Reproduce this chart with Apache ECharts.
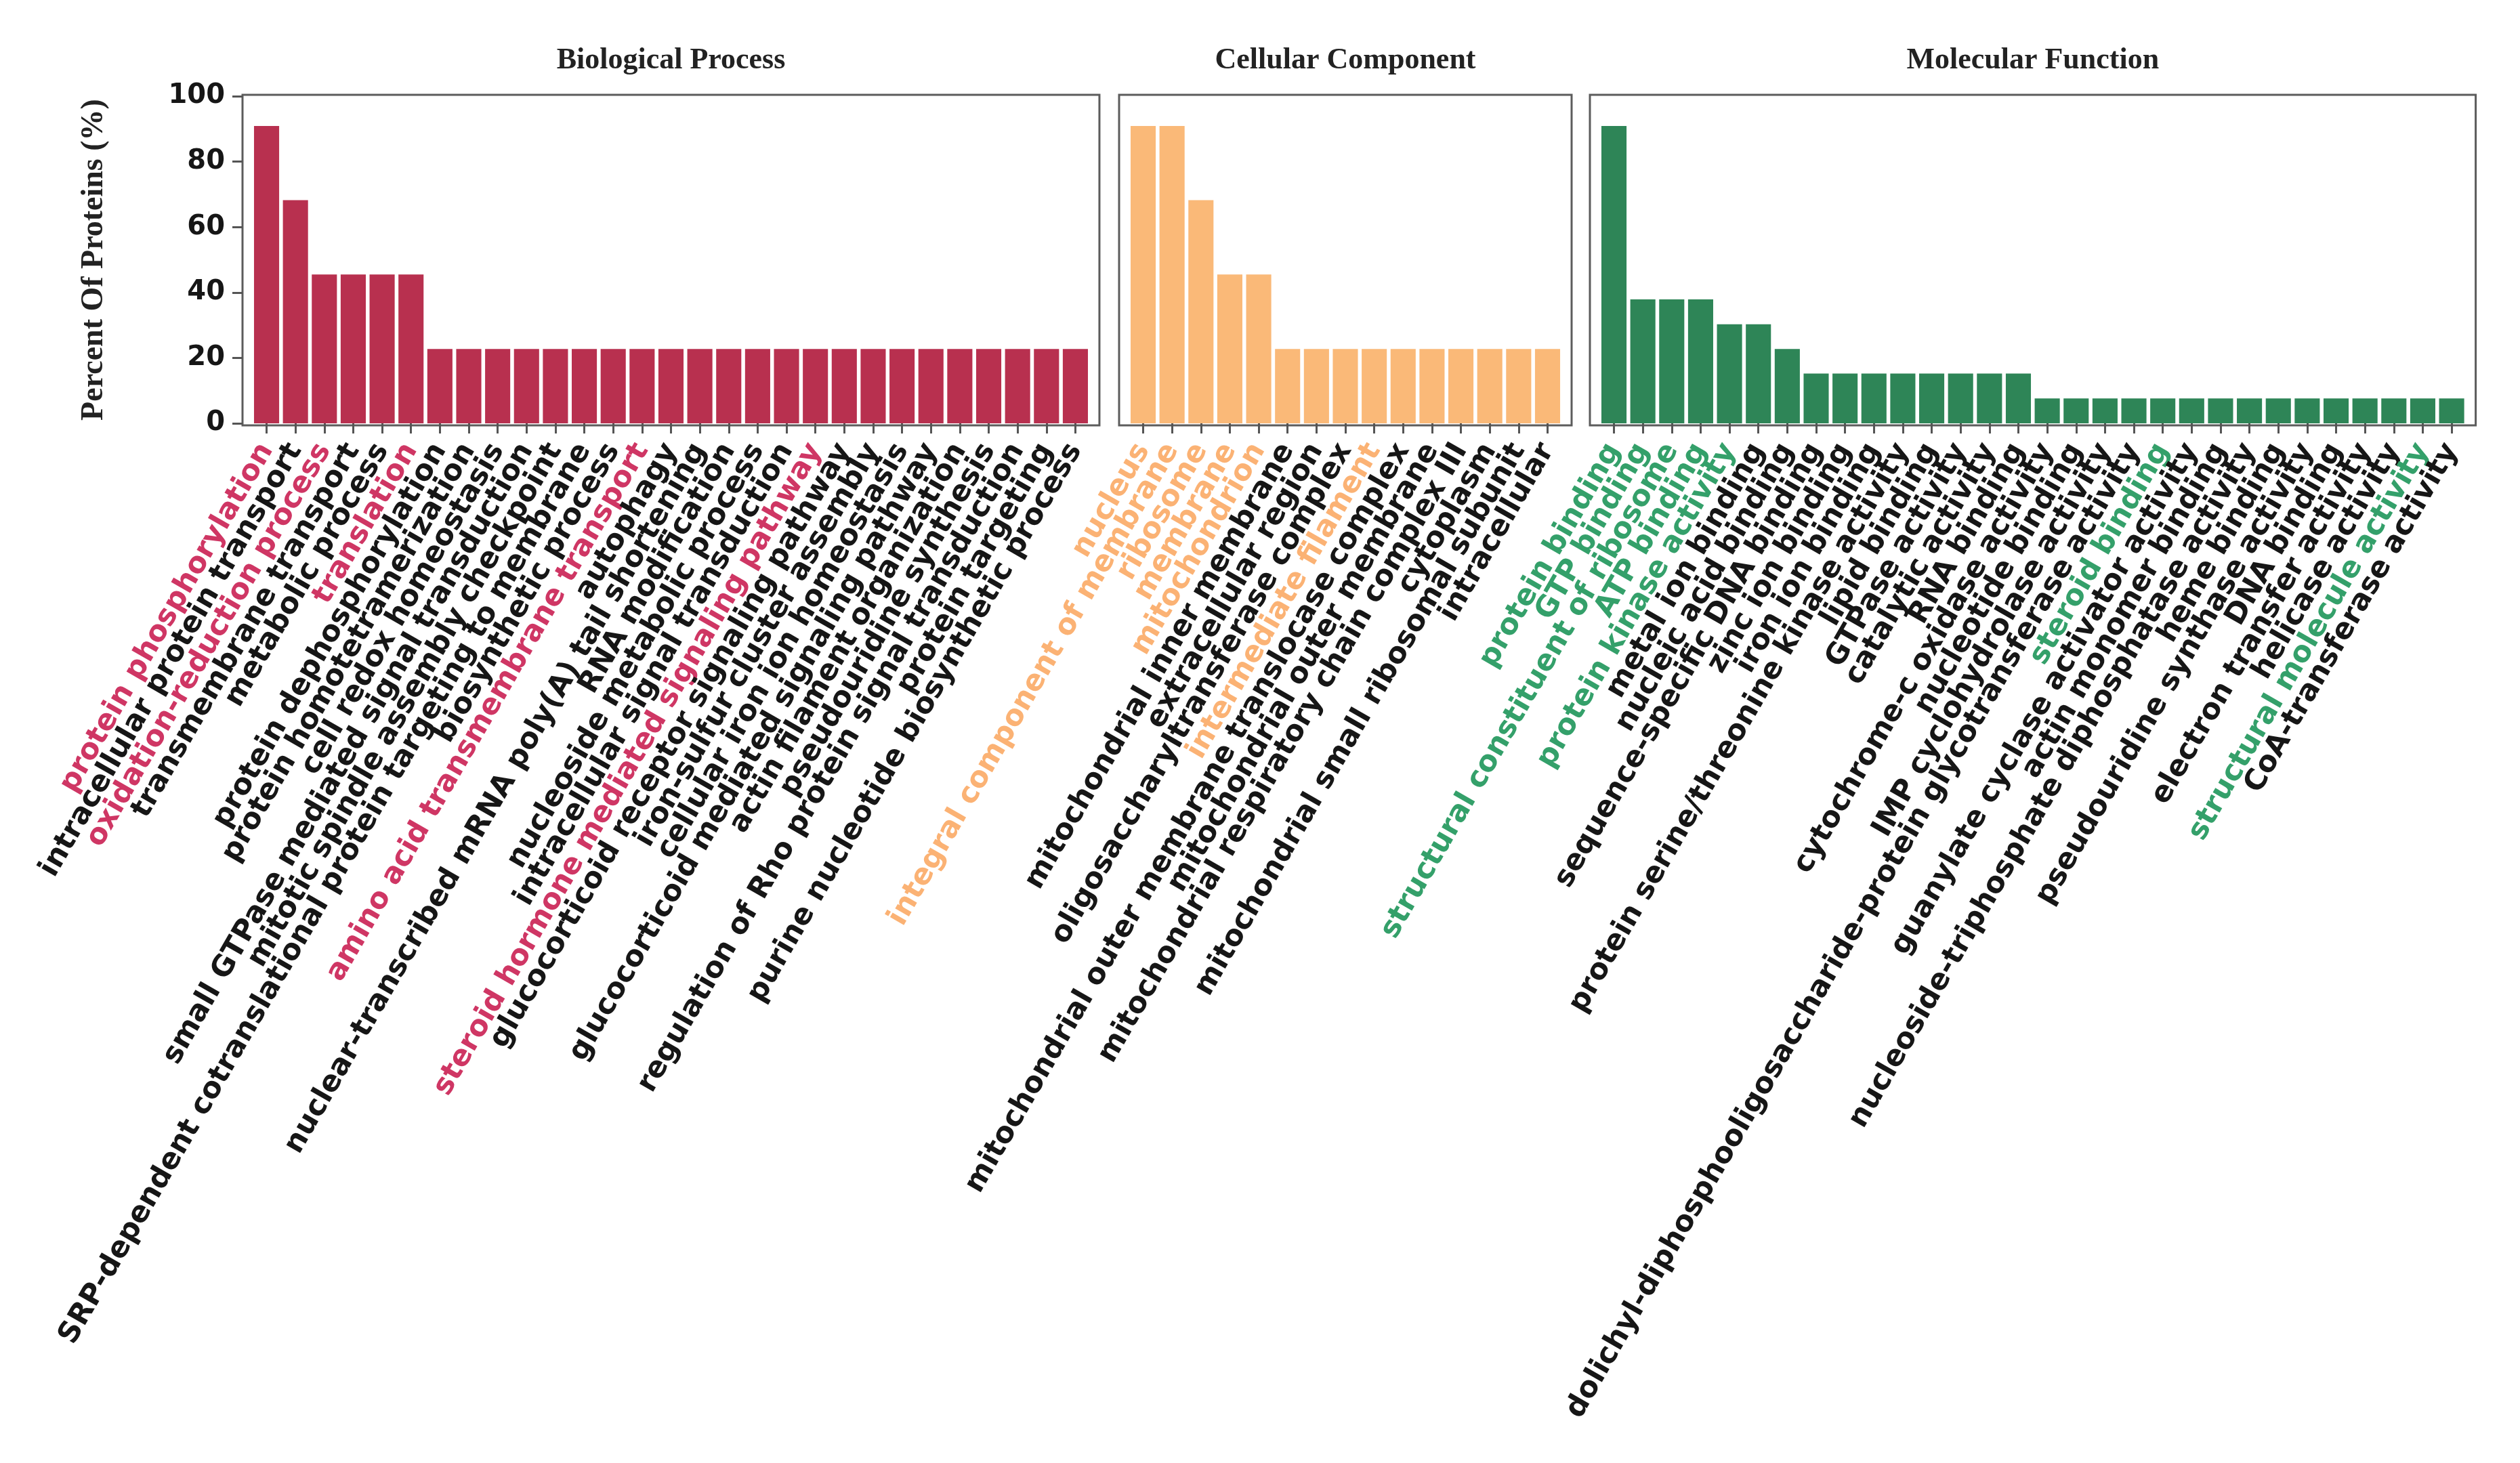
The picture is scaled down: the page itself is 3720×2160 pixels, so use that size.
<!DOCTYPE html>
<html>
<head>
<meta charset="utf-8">
<script src="https://cdn.jsdelivr.net/npm/echarts@6/dist/echarts.min.js"></script>
<style>
html,body{margin:0;padding:0;background:#fff;}
#chart{width:3720px;height:2160px;}
</style>
</head>
<body>
<div id="chart"></div>
<script>
// ---------- data ----------
const panelTitles = ['Biological Process', 'Cellular Component', 'Molecular Function'];

const bpCategories = [
  'protein phosphorylation', 'intracellular protein transport', 'oxidation-reduction process',
  'transmembrane transport', 'metabolic process', 'translation', 'protein dephosphorylation',
  'protein homotetramerization', 'cell redox homeostasis', 'small GTPase mediated signal transduction',
  'mitotic spindle assembly checkpoint', 'SRP-dependent cotranslational protein targeting to membrane',
  'biosynthetic process', 'amino acid transmembrane transport', 'autophagy',
  'nuclear-transcribed mRNA poly(A) tail shortening', 'RNA modification', 'nucleoside metabolic process',
  'intracellular signal transduction', 'steroid hormone mediated signaling pathway',
  'glucocorticoid receptor signaling pathway', 'iron-sulfur cluster assembly',
  'cellular iron ion homeostasis', 'glucocorticoid mediated signaling pathway',
  'actin filament organization', 'pseudouridine synthesis',
  'regulation of Rho protein signal transduction', 'protein targeting',
  'purine nucleotide biosynthetic process'
];
const bpValues = [90.9, 68.2, 45.5, 45.5, 45.5, 45.5,
  22.7, 22.7, 22.7, 22.7, 22.7, 22.7, 22.7, 22.7, 22.7, 22.7, 22.7, 22.7,
  22.7, 22.7, 22.7, 22.7, 22.7, 22.7, 22.7, 22.7, 22.7, 22.7, 22.7];
const bpHighlighted = ['protein phosphorylation', 'oxidation-reduction process', 'translation',
  'amino acid transmembrane transport', 'steroid hormone mediated signaling pathway'];

const ccCategories = [
  'nucleus', 'integral component of membrane', 'ribosome', 'membrane', 'mitochondrion',
  'mitochondrial inner membrane', 'extracellular region', 'oligosaccharyltransferase complex',
  'intermediate filament', 'mitochondrial outer membrane translocase complex',
  'mitochondrial outer membrane', 'mitochondrial respiratory chain complex III', 'cytoplasm',
  'mitochondrial small ribosomal subunit', 'intracellular'
];
const ccValues = [90.9, 90.9, 68.2, 45.5, 45.5,
  22.7, 22.7, 22.7, 22.7, 22.7, 22.7, 22.7, 22.7, 22.7, 22.7];
const ccHighlighted = ['nucleus', 'integral component of membrane', 'ribosome', 'membrane',
  'mitochondrion', 'intermediate filament'];

const mfCategories = [
  'protein binding', 'GTP binding', 'structural constituent of ribosome', 'ATP binding',
  'protein kinase activity', 'metal ion binding', 'nucleic acid binding',
  'sequence-specific DNA binding', 'zinc ion binding', 'iron ion binding',
  'protein serine/threonine kinase activity', 'lipid binding', 'GTPase activity',
  'catalytic activity', 'RNA binding', 'cytochrome-c oxidase activity', 'nucleotide binding',
  'IMP cyclohydrolase activity', 'dolichyl-diphosphooligosaccharide-protein glycotransferase activity',
  'steroid binding', 'guanylate cyclase activator activity', 'actin monomer binding',
  'nucleoside-triphosphate diphosphatase activity', 'heme binding',
  'pseudouridine synthase activity', 'DNA binding', 'electron transfer activity',
  'helicase activity', 'structural molecule activity', 'CoA-transferase activity'
];
const mfValues = [90.9, 37.9, 37.9, 37.9, 30.3, 30.3, 22.7,
  15.2, 15.2, 15.2, 15.2, 15.2, 15.2, 15.2, 15.2,
  7.6, 7.6, 7.6, 7.6, 7.6, 7.6, 7.6, 7.6, 7.6, 7.6, 7.6, 7.6, 7.6, 7.6, 7.6];
const mfHighlighted = ['protein binding', 'GTP binding', 'structural constituent of ribosome',
  'ATP binding', 'protein kinase activity', 'steroid binding', 'structural molecule activity'];

const yTicks = [0, 20, 40, 60, 80, 100];

// ---------- style / layout ----------
const barColors = ['#B8304F', '#FAB978', '#2E8557'];
const labelColors = ['#CF3664', '#FBB274', '#34A06A'];
const textDark = '#161616';
const frameColor = '#5c5c5c';
const pitch = 42.64, pad = 14.2;
const frameTop = 140, frameH = 488;
const dataTop = 142, dataH = 483;
const frameLefts = [358, 1652, 2347];
const panels = [
  {cats: bpCategories, vals: bpValues, hi: bpHighlighted},
  {cats: ccCategories, vals: ccValues, hi: ccHighlighted},
  {cats: mfCategories, vals: mfValues, hi: mfHighlighted}
];

const grids = [], xAxes = [], yAxes = [], series = [], graphics = [];
panels.forEach((p, i) => {
  const n = p.cats.length;
  const fw = n * pitch + 2 * pad;
  grids.push({left: frameLefts[i], top: frameTop, width: fw, height: frameH,
    show: true, borderColor: frameColor, borderWidth: 3, backgroundColor: 'transparent'});
  xAxes.push({gridIndex: i, type: 'value', show: false});
  yAxes.push({gridIndex: i, type: 'value', show: false});
  graphics.push({type: 'text', x: frameLefts[i] + fw / 2, y: 90,
    style: {text: panelTitles[i], textAlign: 'center', textVerticalAlign: 'middle',
      font: 'bold 44px "Liberation Serif", "Times New Roman", serif', fill: '#222'}});
});
panels.forEach((p, i) => {
  const n = p.cats.length;
  const gi = i + 3;
  grids.push({left: frameLefts[i] + pad, top: dataTop, width: n * pitch, height: dataH});
  xAxes.push({
    gridIndex: gi, type: 'category', data: p.cats, position: 'bottom', offset: 3,
    axisLine: {show: false},
    axisTick: {show: true, alignWithLabel: true, length: 15, lineStyle: {color: '#555', width: 3}},
    axisLabel: {
      interval: 0, rotate: 60, margin: 30, fontSize: 43, fontWeight: 'bold',
      fontFamily: '"DejaVu Sans", Verdana, sans-serif',
      color: (v) => p.hi.indexOf(v) >= 0 ? labelColors[i] : textDark
    }
  });
  yAxes.push({
    gridIndex: gi, type: 'value', min: 0, max: 100, interval: 20,
    show: i === 0, offset: pad,
    axisLine: {show: false},
    axisTick: {show: true, length: 15, lineStyle: {color: '#555', width: 3}},
    splitLine: {show: false},
    axisLabel: {margin: 26, fontSize: 40, fontWeight: 'bold', color: textDark,
      fontFamily: '"DejaVu Sans", Verdana, sans-serif',
      formatter: (v) => yTicks.indexOf(v) >= 0 ? String(v) : ''},
    name: i === 0 ? 'Percent Of Proteins (%)' : '',
    nameLocation: 'middle', nameRotate: 90, nameGap: 196,
    nameTextStyle: {fontSize: 46, fontWeight: 'bold', color: '#222',
      fontFamily: '"Liberation Serif", "Times New Roman", serif'}
  });
  series.push({
    type: 'bar', xAxisIndex: gi, yAxisIndex: gi, data: p.vals,
    barCategoryGap: '13%', itemStyle: {color: barColors[i]}
  });
});

const chart = echarts.init(document.getElementById('chart'), null, {renderer: 'canvas'});
chart.setOption({
  backgroundColor: '#ffffff',
  animation: false,
  grid: grids, xAxis: xAxes, yAxis: yAxes, series: series,
  graphic: graphics
});
</script>
</body>
</html>
